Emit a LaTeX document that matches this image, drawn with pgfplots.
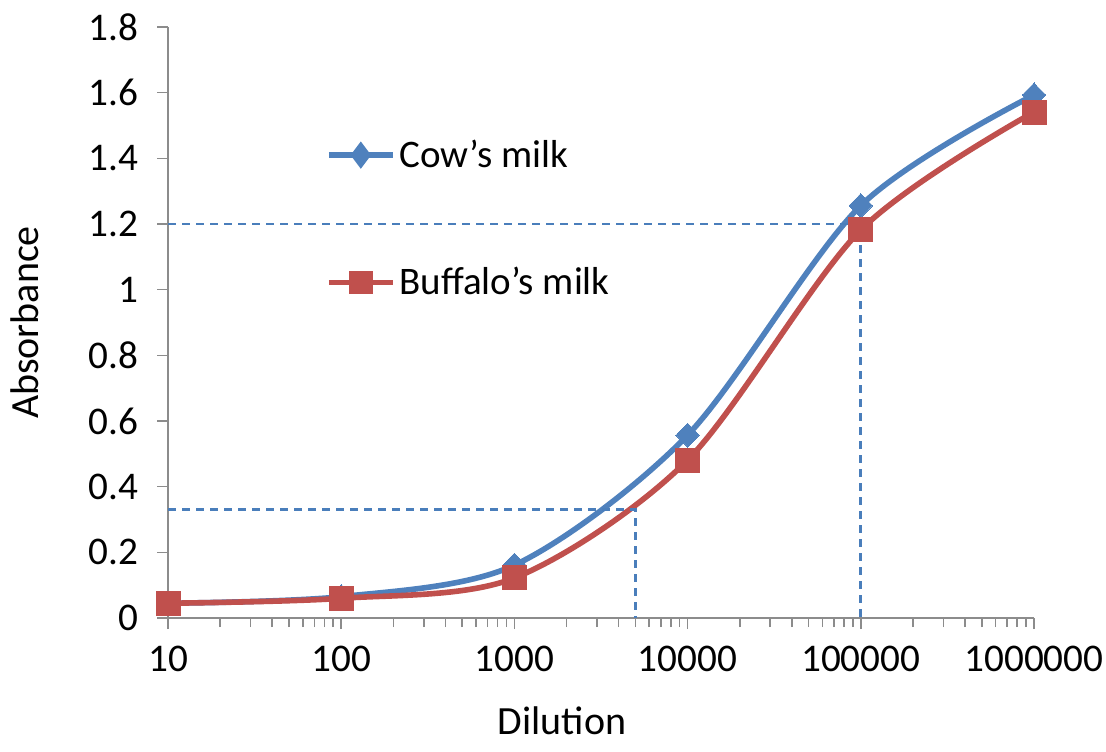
\documentclass[border=0pt]{standalone}
\usepackage{fontspec}
\setmainfont{Carlito}
\usepackage{pgfplots}
\pgfplotsset{compat=1.18}
\definecolor{cowblue}{HTML}{4F81BD}
\definecolor{bufred}{HTML}{C0504D}
\definecolor{dashblue}{HTML}{4A7EBB}
\definecolor{axgray}{HTML}{8C8C8C}
\begin{document}
\begin{tikzpicture}
\path[use as bounding box] (-84pt,-66.5pt) rectangle (469pt,309pt);
\begin{axis}[
  at={(0,0)}, anchor=south west,
  scale only axis, width=433pt, height=295.5pt,
  xmode=log, xmin=10, xmax=1000000, ymin=0, ymax=1.8,
  axis lines*=left,
  axis line style={axgray, line width=0.8pt, -},
  tick style={axgray, line width=0.8pt},
  tick align=outside,
  major tick length=5.5pt, minor tick length=4.5pt,
  xtick={10,100,1000,10000,100000,1000000},
  xticklabels={10,100,1000,10000,100000,1000000},
  minor xtick={20,30,40,50,60,70,80,90,200,300,400,500,600,700,800,900,2000,3000,4000,5000,6000,7000,8000,9000,20000,30000,40000,50000,60000,70000,80000,90000,200000,300000,400000,500000,600000,700000,800000,900000},
  ytick={0,0.2,0.4,0.6,0.8,1,1.2,1.4,1.6,1.8},
  yticklabels={0,0.2,0.4,0.6,0.8,1,1.2,1.4,1.6,1.8},
  ticklabel style={font=\fontsize{19.6}{22}\selectfont, text=black},
  xticklabel style={yshift=-5pt},
  yticklabel style={xshift=-6pt},
  xlabel={Dilution}, ylabel={Absorbance},
  label style={font=\fontsize{20}{24}\selectfont},
  xlabel style={at={(axis description cs:0.455,-0.174)}, anchor=center, inner sep=0pt},
  ylabel style={at={(axis description cs:-0.165,0.5)}, anchor=center},
  clip=false,
  legend style={at={(axis description cs:0.182,0.8165)}, anchor=north west,
    draw=none, fill=none, font=\fontsize{19.5}{23}\selectfont,
    row sep=44.5pt, column sep=0pt, inner sep=0pt},
  legend cell align=left,
  legend image code/.code={\draw[mark repeat=2,mark phase=2,mark options={scale=0.75}] plot coordinates {(0pt,0pt)(16pt,0pt)(32pt,0pt)};},
]
\addplot[cowblue, line width=2.8pt, smooth, mark=diamond*, mark size=6pt,
  mark options={solid, fill=cowblue, draw=cowblue, line width=0pt, xscale=1.3}]
  coordinates {(10,0.045) (100,0.065) (1000,0.161) (10000,0.557) (100000,1.256) (1000000,1.593)};
\addlegendentry{Cow’s milk}
\addplot[bufred, line width=2.8pt, smooth, mark=square*, mark size=6pt,
  mark options={solid, fill=bufred, draw=bufred, line width=0pt}]
  coordinates {(10,0.045) (100,0.060) (1000,0.122) (10000,0.481) (100000,1.182) (1000000,1.541)};
\addlegendentry{Buffalo’s milk}
\addplot[dashblue, line width=1.4pt, dash pattern=on 4pt off 3pt, forget plot]
  coordinates {(10,1.2) (100000,1.2) (100000,0)};
\addplot[dashblue, line width=1.4pt, dash pattern=on 4pt off 3pt, forget plot]
  coordinates {(10,0.33) (5000,0.33) (5000,0)};
\end{axis}
\end{tikzpicture}
\end{document}
